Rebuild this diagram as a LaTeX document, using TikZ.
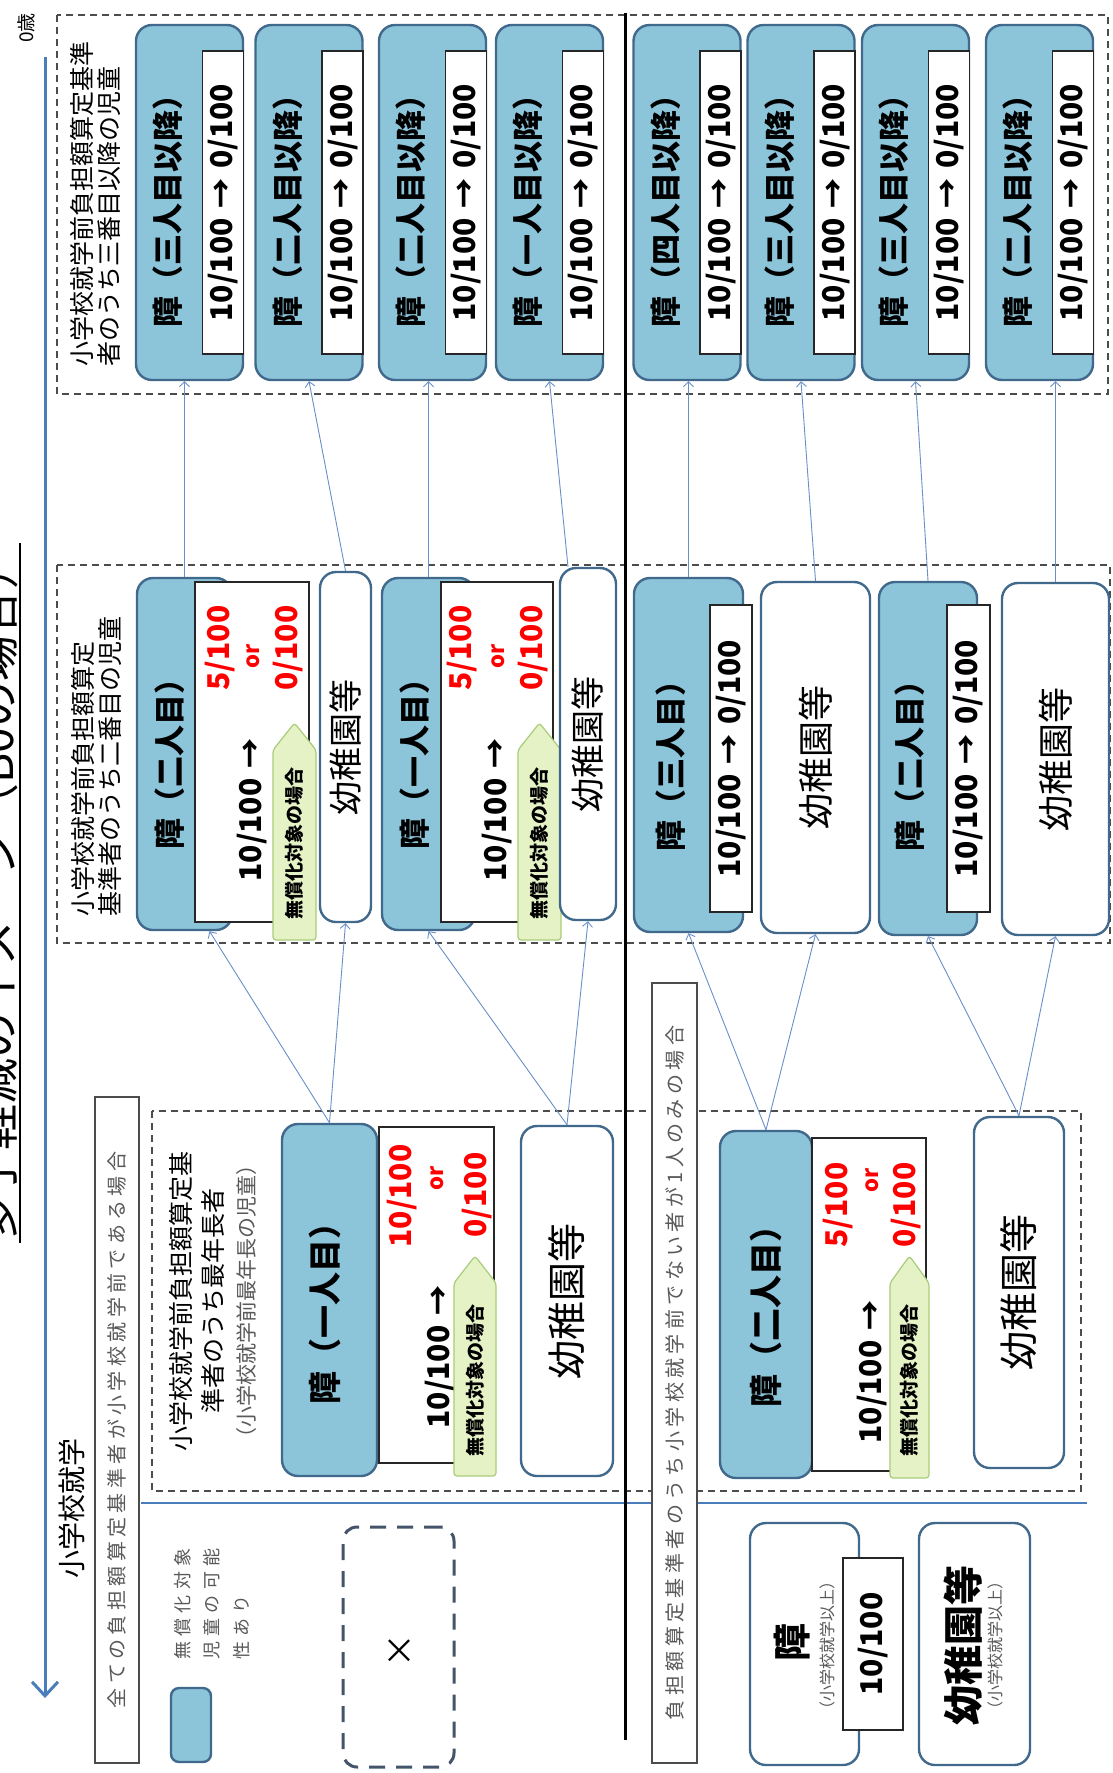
\documentclass[tikz,border=0pt]{standalone}
\usepackage{fontspec}
\setmainfont{Noto Sans CJK JP}
\usetikzlibrary{arrows.meta}

\definecolor{boxblue}{HTML}{8CC4DA}
\definecolor{edgeblue}{HTML}{41698C}
\definecolor{linkblue}{HTML}{6A8FC8}
\definecolor{axisblue}{HTML}{4A7EBB}
\definecolor{callgreen}{HTML}{E4F2C6}
\definecolor{calledge}{HTML}{A9CC7A}
\definecolor{labelgray}{HTML}{595959}
\definecolor{slate}{HTML}{44546A}

\tikzset{
  bluebox/.style={draw=edgeblue, line width=2.4pt, fill=boxblue, rounded corners=16pt, inner sep=0pt},
  kinderbox/.style={draw=edgeblue, line width=2.4pt, fill=white, rounded corners=16pt, inner sep=0pt},
  ratebox/.style={draw=black!85, line width=1.3pt, fill=white, inner sep=0pt},
  casebox/.style={draw=black!70, line width=1.4pt, fill=white, inner sep=0pt},
  groupbox/.style={draw=black!70, line width=1.3pt, dash pattern=on 7pt off 5pt},
  link/.style={draw=linkblue, line width=0.9pt, -{Straight Barb[length=5pt,width=10pt]}},
  callout/.style={draw=calledge, line width=1.2pt, fill=callgreen, rounded corners=3pt},
  vtext/.style={rotate=90, inner sep=0pt},
  titletext/.style={vtext, font=\fontsize{31}{31}\selectfont\bfseries},
  ratetext/.style={vtext, font=\fontsize{30}{30}\selectfont\bfseries},
  redrate/.style={ratetext, text=red},
  ortext/.style={vtext, font=\fontsize{22}{22}\selectfont\bfseries, text=red},
  kindertext/.style={vtext, font=\fontsize{36}{36}\selectfont},
  grouptext/.style={vtext, font=\fontsize{25}{27}\selectfont, align=left},
  casetext/.style={vtext, font=\fontsize{20}{20}\selectfont\addfontfeature{LetterSpace=22}, text=labelgray},
  freetext/.style={vtext, font=\fontsize{19}{19}\selectfont\bfseries},
  smalltext/.style={vtext, font=\fontsize{16}{16}\selectfont, text=labelgray},
}

\begin{document}
\begin{tikzpicture}[x=1pt, y=-1pt]
\fill[white] (0,0) rectangle (1112,1773);
\useasboundingbox (0,0) rectangle (1112,1773);

% title and age axis
\node[vtext, font=\fontsize{46}{46}\selectfont, anchor=south] (title) at (18,893) {多子軽減のイメージ（B0の場合）};
\draw[line width=2pt] ([xshift=2pt]title.south west) -- ([xshift=2pt]title.south east);
\node[vtext, font=\fontsize{19}{19}\selectfont] (zero) at (26,28) {0歳};
\draw[axisblue, line width=3pt, -{Straight Barb[length=14pt,width=26pt,line width=3pt]}] (45,57) -- (45,1698);
\node[vtext, font=\fontsize{28}{28}\selectfont] (school) at (72,1508) {小学校就学};

% groups
\draw[groupbox] (57,15) rectangle (1108,394);
\draw[groupbox] (57,565) rectangle (1110,943);
\draw[groupbox] (152,1111) rectangle (1081,1491);
\node[grouptext, anchor=west] (gA) at (95.5,367) {小学校就学前負担額算定基準\\者のうち三番目以降の児童};
\node[grouptext, anchor=west] (gB) at (96,917) {小学校就学前負担額算定\\基準者のうち二番目の児童};
\node[grouptext, font=\fontsize{25}{32}\selectfont, align=center] (gC) at (213,1301)
  {小学校就学前負担額算定基\\準者のうち最年長者\\{\fontsize{21}{32}\selectfont\color{labelgray}（小学校就学前最年長の児童）}};

% separator lines
\draw[axisblue, line width=2.6pt] (141,1503) -- (1087,1503);
\draw[black, line width=3pt] (625,13) -- (625,1740);

% case labels
\node[casebox, minimum width=44pt, minimum height=666pt] (case1) at (117,1430) {};
\node[casetext] at (case1) {全ての負担額算定基準者が小学校就学前である場合};
\node[casebox, minimum width=45pt, minimum height=780pt] (case2) at (674.5,1373) {};
\node[casetext] at (case2) {負担額算定基準者のうち小学校就学前でない者が1人のみの場合};

% row A: third and later
\foreach \i/\cx/\who in {1/189.5/三人目以降, 2/309/二人目以降, 3/432.5/二人目以降, 4/549.5/一人目以降,
                         5/687/四人目以降, 6/801/三人目以降, 7/915.5/三人目以降, 8/1039.5/二人目以降} {
  \node[bluebox, minimum width=107pt, minimum height=355pt] (A\i) at (\cx,202.5) {};
  \node[ratebox, minimum width=41pt, minimum height=303pt, anchor=east] (Ar\i) at (A\i.east) {};
  \node[titletext] at (\cx-21.5,203) {障（\who）};
  \node[ratetext] at (Ar\i) {10/100\,\,→\,\,0/100};
}

% row B: second child
\node[bluebox, minimum width=95pt, minimum height=352pt] (B1) at (184.5,754) {};
\node[ratebox, minimum width=114pt, minimum height=340pt] (Br1) at (252,752) {};
\node[titletext] at (170,756) {障（二人目）};
\node[ratetext] at (252,810) {10/100\,\,→};
\node[redrate] at (220,648) {5/100};
\node[ortext] at (253,656) {or};
\node[redrate] at (288,648) {0/100};
\draw[callout] (273,940) -- (273,750) -- (294.5,723) -- (316,750) -- (316,940) -- cycle;
\node[freetext] at (294.5,843) {無償化対象の場合};

\node[kinderbox, minimum width=51pt, minimum height=350pt] (B2) at (345.5,747) {};
\node[kindertext, font=\fontsize{34}{34}\selectfont] at (B2) {幼稚園等};

\node[bluebox, minimum width=93pt, minimum height=352pt] (B3) at (428.5,754) {};
\node[ratebox, minimum width=112pt, minimum height=340pt] (Br3) at (497,752) {};
\node[titletext] at (415,756) {障（一人目）};
\node[ratetext] at (497,810) {10/100\,\,→};
\node[redrate] at (462,648) {5/100};
\node[ortext] at (498,656) {or};
\node[redrate] at (533,648) {0/100};
\draw[callout] (518,940) -- (518,750) -- (539.5,723) -- (561,750) -- (561,940) -- cycle;
\node[freetext] at (539.5,843) {無償化対象の場合};

\node[kinderbox, minimum width=56pt, minimum height=352pt] (B4) at (588,744) {};
\node[kindertext, font=\fontsize{34}{34}\selectfont] at (B4) {幼稚園等};

\node[bluebox, minimum width=109pt, minimum height=354pt] (B5) at (688.5,755) {};
\node[ratebox, minimum width=42pt, minimum height=307pt] (Br5) at (731,758.5) {};
\node[titletext] at (671,758) {障（三人目）};
\node[ratetext] at (Br5) {10/100\,\,→\,\,0/100};

\node[kinderbox, minimum width=109pt, minimum height=351pt] (B6) at (815.5,757.5) {};
\node[kindertext] at (B6) {幼稚園等};

\node[bluebox, minimum width=98pt, minimum height=353pt] (B7) at (928,758.5) {};
\node[ratebox, minimum width=43pt, minimum height=307pt] (Br7) at (968.5,758.5) {};
\node[titletext] at (910,758) {障（二人目）};
\node[ratetext] at (Br7) {10/100\,\,→\,\,0/100};

\node[kinderbox, minimum width=107pt, minimum height=352pt] (B8) at (1055.5,759) {};
\node[kindertext] at (B8) {幼稚園等};

% row C: eldest child
\node[bluebox, minimum width=95pt, minimum height=352pt] (C1) at (329.5,1300) {};
\node[ratebox, minimum width=115pt, minimum height=336pt] (Cr1) at (436.5,1295) {};
\node[titletext, font=\fontsize{33}{33}\selectfont\bfseries] at (325,1305) {障（一人目）};
\node[redrate] at (402,1196) {10/100};
\node[ortext] at (437,1178) {or};
\node[redrate] at (477,1195) {0/100};
\node[ratetext] at (440,1357) {10/100\,\,→};
\draw[callout] (454,1476) -- (454,1283) -- (475,1256) -- (496,1283) -- (496,1476) -- cycle;
\node[freetext] at (475,1380) {無償化対象の場合};

\node[kinderbox, minimum width=92pt, minimum height=350pt] (C2) at (567,1301) {};
\node[kindertext, font=\fontsize{39}{39}\selectfont] at (C2) {幼稚園等};

\node[bluebox, minimum width=92pt, minimum height=347pt] (C3) at (766,1304.5) {};
\node[ratebox, minimum width=114pt, minimum height=333pt] (Cr3) at (869,1304.5) {};
\node[titletext, font=\fontsize{33}{33}\selectfont\bfseries] at (766,1308) {障（二人目）};
\node[redrate] at (838,1205) {5/100};
\node[ortext] at (872,1180) {or};
\node[redrate] at (906,1205) {0/100};
\node[ratetext] at (872,1372) {10/100\,\,→};
\draw[callout] (890,1478) -- (890,1283) -- (909.5,1256) -- (929,1283) -- (929,1478) -- cycle;
\node[freetext] at (909.5,1380) {無償化対象の場合};

\node[kinderbox, minimum width=90pt, minimum height=351pt] (C4) at (1019,1292.5) {};
\node[kindertext, font=\fontsize{39}{39}\selectfont] at (C4) {幼稚園等};

% school age
\node[kinderbox, minimum width=109pt, minimum height=242pt] (D1) at (804.5,1644) {};
\node[ratebox, minimum width=60pt, minimum height=172pt] (Dr1) at (873,1644) {};
\node[vtext, font=\fontsize{38}{38}\selectfont\bfseries] at (792,1642) {障};
\node[smalltext] at (827,1645) {（小学校就学以上）};
\node[ratetext] at (Dr1) {10/100};
\node[kinderbox, minimum width=111pt, minimum height=242pt] (D2) at (974.5,1644) {};
\node[vtext, font=\fontsize{40}{40}\selectfont\bfseries] at (963,1645) {幼稚園等};
\node[smalltext] at (995,1645) {（小学校就学以上）};

% legend
\node[bluebox, rounded corners=8pt, minimum width=40pt, minimum height=74pt] (keyfree) at (191,1725) {};
\node[vtext, font=\fontsize{18}{29.5}\selectfont\addfontfeature{LetterSpace=30}, text=labelgray, align=left, anchor=west] (keytext) at (212,1660) {無償化対象\\児童の可能\\性あり};
\node[draw=slate, line width=3pt, dash pattern=on 16pt off 11pt, rounded corners=14pt, minimum width=111pt, minimum height=240pt] (keynone) at (398.5,1647) {};
\node[font=\fontsize{34}{34}\selectfont] at (399,1652) {×};

% links
\draw[link] (B1.north) -- (B1.north |- A1.south);
\draw[link] (B2.north) -- (A2.south);
\draw[link] (B3.north) -- (B3.north |- A3.south);
\draw[link] ([xshift=-20pt]B4.north) -- (A4.south);
\draw[link] (B5.north) -- (B5.north |- A5.south);
\draw[link] (B6.north) -- (A6.south);
\draw[link] (B7.north) -- (A7.south);
\draw[link] (B8.north) -- (B8.north |- A8.south);
\draw[link] (C1.north) -- ([xshift=25pt]B1.south);
\draw[link] (C1.north) -- (B2.south);
\draw[link] (C2.north) -- (B3.south);
\draw[link] (C2.north) -- (B4.south);
\draw[link] (C3.north) -- (B5.south);
\draw[link] (C3.north) -- (B6.south);
\draw[link] (C4.north) -- (B7.south);
\draw[link] (C4.north) -- (B8.south);
\end{tikzpicture}
\end{document}
